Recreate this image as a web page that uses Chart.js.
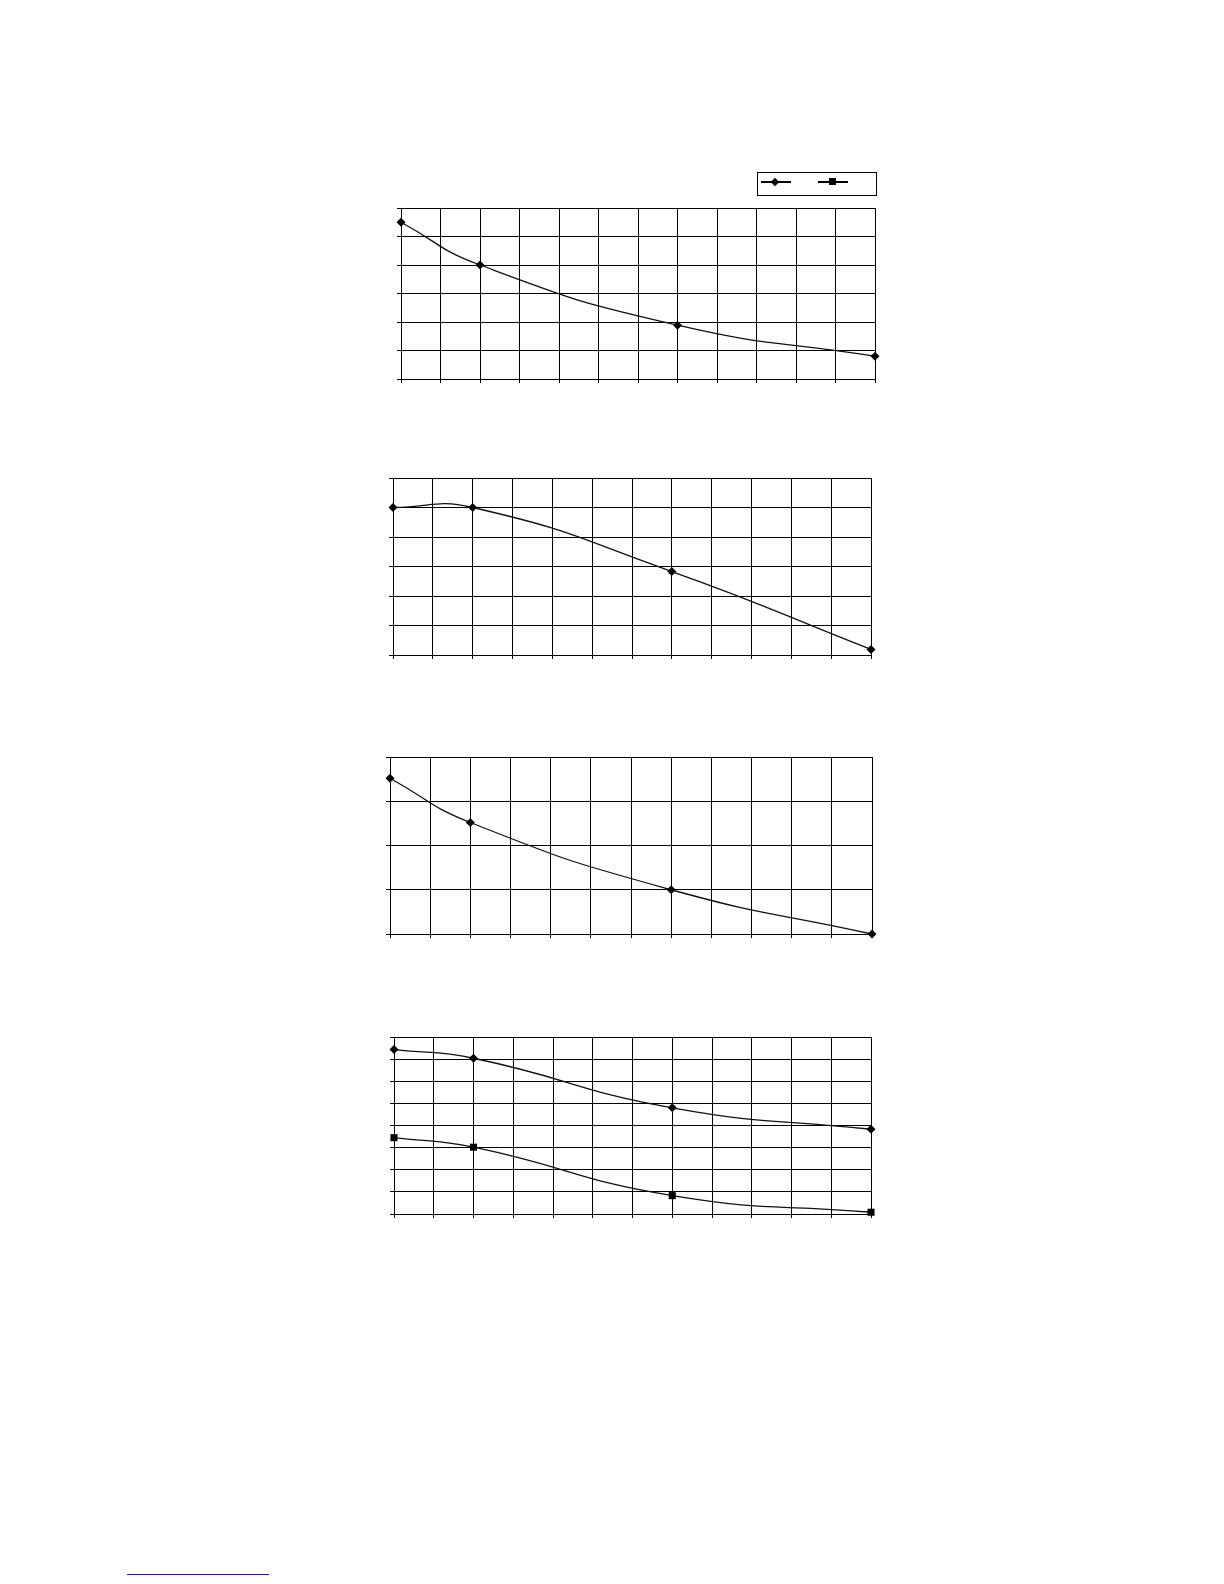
<!DOCTYPE html>
<html>
<head>
<meta charset="utf-8">
<script src="https://cdn.jsdelivr.net/npm/chart.js@4.4.1/dist/chart.umd.min.js"></script>
<style>
  html, body { margin: 0; padding: 0; background: #fff; }
  body { width: 1224px; height: 1584px; position: relative; overflow: hidden; }
  canvas { position: absolute; }
  .abs { position: absolute; }
  .lg-line { height: 2px; background: #000; }
  .lg-diamond { width: 6px; height: 6px; background: #000; transform: rotate(45deg); }
  .lg-square { width: 7px; height: 7px; background: #000; }
</style>
</head>
<body>

<div class="abs" style="left:757px;top:172px;width:118px;height:22px;border:1px solid #000;"></div>
<div class="abs lg-line" style="left:761px;top:181px;width:30px;"></div>
<div class="abs lg-diamond" style="left:772px;top:179px;"></div>
<div class="abs lg-line" style="left:818px;top:181px;width:30px;"></div>
<div class="abs lg-square" style="left:829px;top:178px;"></div>

<div class="abs" style="left:127px;top:1574px;width:142px;height:0;border-top:1.5px solid #1e1e9e;"></div>

<script>
// x positions of the measured points (grid units, 12 columns)
const xValues = [0, 2, 7, 12];

// series values (grid units)
const chart1Values = [5.5, 4.0, 1.89, 0.8];
const chart2Values = [5.0, 5.0, 2.83, 0.19];
const chart3Values = [3.52, 2.52, 1.0, 0.0];
const chart4SeriesA = [7.43, 7.04, 4.8, 3.83];
const chart4SeriesB = [3.45, 3.02, 0.83, 0.08];

// axis ranges
const xMax = 12;
const yMaxes = [6, 6, 4, 8];

const PAD = 12, TICK = 4;

function pts(ys){ return xValues.map((x,i) => ({x, y: ys[i]})); }

function series(ys, style){
  return {
    data: pts(ys), borderColor:'#111', borderWidth:1.3, tension:0.5,
    pointStyle:style, pointRadius: style==='rect' ? 5 : 4.5,
    pointBackgroundColor:'#000', pointBorderColor:'#000', pointBorderWidth:0,
    clip:false
  };
}

function makeChart(plot, yMax, datasets){
  const c = document.createElement('canvas');
  const w = plot.r - plot.l + PAD*2 + TICK, h = plot.b - plot.t + PAD*2 + TICK;
  c.width = w; c.height = h;
  c.style.left = (plot.l - PAD - TICK) + 'px';
  c.style.top = (plot.t - PAD) + 'px';
  c.style.width = w + 'px'; c.style.height = h + 'px';
  document.body.appendChild(c);
  const grid = {color:'#000', lineWidth:1, drawTicks:true, tickLength:TICK};
  const border = {display:true, color:'#000', width:1};
  new Chart(c, {
    type:'line',
    data:{datasets},
    options:{
      responsive:false, animation:false, devicePixelRatio:1,
      layout:{padding:PAD},
      plugins:{legend:{display:false}, tooltip:{enabled:false}},
      scales:{
        x:{type:'linear', min:0, max:xMax, ticks:{display:false, stepSize:1}, grid, border},
        y:{type:'linear', min:0, max:yMax, ticks:{display:false, stepSize:1}, grid, border}
      }
    }
  });
}

makeChart({l:401, t:208, r:875, b:379}, yMaxes[0], [series(chart1Values,'rectRot')]);
makeChart({l:393, t:478, r:871, b:655}, yMaxes[1], [series(chart2Values,'rectRot')]);
makeChart({l:390, t:757, r:872, b:934}, yMaxes[2], [series(chart3Values,'rectRot')]);
makeChart({l:394, t:1037, r:871, b:1214}, yMaxes[3], [series(chart4SeriesA,'rectRot'), series(chart4SeriesB,'rect')]);
</script>
</body>
</html>
